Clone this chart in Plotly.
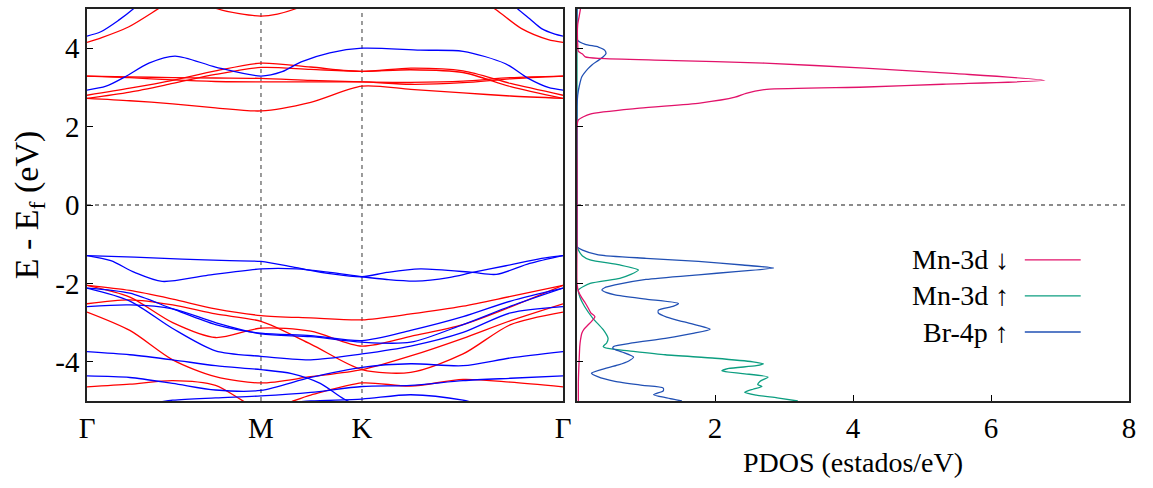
import plotly.graph_objects as go

# ---------------- Band structure data ----------------
# path coordinate (normalised): Gamma - M - K - Gamma
k_ticks = [0.0, 0.3655, 0.5777, 1.0]
k_labels = ["Γ", "M", "K", "Γ"]
kg = [0.0, 0.09, 0.18, 0.27, 0.3655, 0.47, 0.5777, 0.68, 0.79, 0.89, 1.0]

# conduction bands (spin down, red)
cr_k1 = [0.0, 0.031, 0.087, 0.149, 0.20, 0.5, 0.80, 0.857, 0.913, 0.969, 1.0]
cr_e1 = [4.15, 4.27, 4.54, 5.0, 5.4, 6.0, 5.4, 5.0, 4.50, 4.22, 4.15]
cr_k2 = [0.20, 0.275, 0.32, 0.3655, 0.40, 0.437, 0.50]
cr_e2 = [5.4, 5.0, 4.88, 4.82, 4.87, 5.0, 5.35]
cr_a = [2.80, 2.98, 3.18, 3.42, 3.62, 3.52, 3.41, 3.49, 3.42, 3.10, 2.80]
cr_b = [2.72, 2.88, 3.10, 3.33, 3.51, 3.46, 3.41, 3.45, 3.38, 3.02, 2.72]
cr_c = [3.29, 3.27, 3.25, 3.24, 3.23, 3.18, 3.14, 3.13, 3.16, 3.25, 3.29]
cr_d = [3.29, 3.25, 3.19, 3.15, 3.14, 3.14, 3.14, 3.08, 3.12, 3.22, 3.29]
cr_e = [2.72, 2.66, 2.58, 2.48, 2.40, 2.62, 3.03, 2.95, 2.86, 2.78, 2.72]

# conduction bands (spin up, blue)
cb_k1 = [0.0, 0.029, 0.066, 0.097, 0.14, 0.5, 0.86, 0.905, 0.93, 0.955, 0.983, 1.0]
cb_e1 = [4.31, 4.42, 4.71, 5.0, 5.5, 6.5, 5.5, 5.0, 4.75, 4.50, 4.36, 4.31]
cb_k2 = [0.0, 0.04, 0.08, 0.13, 0.185, 0.27, 0.3655, 0.41, 0.45, 0.51, 0.5777, 0.70, 0.79, 0.878, 0.927, 0.969, 1.0]
cb_e2 = [2.93, 3.03, 3.27, 3.62, 3.80, 3.52, 3.29, 3.40, 3.65, 3.88, 4.0, 3.95, 3.92, 3.61, 3.23, 3.00, 2.93]

# valence bands (spin down, red)
vr_1 = [-2.05, -2.18, -2.40, -2.65, -2.82, -2.88, -2.93, -2.78, -2.58, -2.33, -2.05]
vr_2 = [-2.05, -2.35, -3.00, -3.38, -3.14, -3.22, -3.60, -3.35, -3.05, -2.60, -2.05]
vr_3 = [-2.52, -2.42, -2.55, -2.78, -2.97, -3.55, -4.20, -4.27, -3.80, -3.05, -2.73]
vr_4 = [-2.73, -3.20, -3.95, -4.38, -4.54, -4.38, -4.20, -3.85, -3.40, -2.95, -2.52]
vr_5 = [-4.64, -4.57, -4.48, -4.60, -5.20, -4.85, -4.54, -4.62, -4.45, -4.52, -4.64]

# valence bands (spin up, blue)
vb_k1 = [0.0, 0.1, 0.2, 0.3, 0.3655, 0.44, 0.51, 0.5777, 0.63, 0.70, 0.81, 0.86, 0.93, 1.0]
vb_e1 = [-1.29, -1.33, -1.38, -1.42, -1.44, -1.60, -1.75, -1.83, -1.72, -1.63, -1.72, -1.77, -1.49, -1.29]
vb_k2 = [0.0, 0.05, 0.10, 0.158, 0.25, 0.3655, 0.44, 0.51, 0.5777, 0.63, 0.69, 0.76, 0.81, 0.88, 0.955, 1.0]
vb_e2 = [-1.29, -1.42, -1.72, -1.95, -1.80, -1.63, -1.63, -1.72, -1.83, -1.90, -1.94, -1.85, -1.72, -1.55, -1.36, -1.29]
vb_3 = [-2.12, -2.25, -2.65, -3.05, -3.27, -3.33, -3.46, -3.20, -2.85, -2.45, -2.12]
vb_4 = [-2.12, -2.45, -3.15, -3.72, -3.86, -3.95, -3.80, -3.60, -3.25, -2.75, -2.59]
vb_5 = [-2.59, -2.55, -2.65, -3.00, -3.29, -3.36, -3.50, -3.50, -3.05, -2.58, -2.12]
vb_k6 = [0.0, 0.09, 0.18, 0.27, 0.3655, 0.43, 0.49, 0.54, 0.60, 0.75, 1.0]
vb_6 = [-3.74, -3.82, -3.95, -4.10, -4.20, -4.30, -4.55, -4.95, -5.25, -5.40, -5.50]
vb_7 = [-4.36, -4.40, -4.55, -4.72, -4.73, -4.40, -4.14, -4.05, -4.10, -3.90, -3.74]
vb_8 = [-5.30, -5.15, -4.98, -4.92, -4.87, -4.78, -4.63, -4.60, -4.48, -4.42, -4.36]
vb_9 = [-5.60, -5.50, -5.35, -5.20, -5.10, -5.00, -4.95, -4.84, -4.98, -5.30, -5.50]

# ---------------- PDOS data ----------------
mn_dn_E = [5.0, 4.8, 4.6, 4.1, 3.92, 3.85, 3.78, 3.74, 3.69, 3.62, 3.49, 3.35, 3.18, 3.08, 3.01, 2.95,
           2.85, 2.75, 2.60, 2.47, 2.32, 2.17, 2.0, 1.0, 0.0, -1.0, -2.0, -2.2, -2.37, -2.5, -2.62,
           -2.75, -2.85, -2.95, -3.06, -3.17, -3.27, -3.45, -3.61, -4.0, -4.5, -5.0]
mn_dn_D = [0.05, 0.03, 0.01, 0.01, 0.02, 0.08, 0.12, 0.33, 1.28, 2.72, 4.17, 5.5, 6.78, 5.3, 4.2, 2.75,
           2.45, 2.29, 1.78, 0.91, 0.19, 0.02, 0.0, 0.0, 0.0, 0.0, 0.0, 0.02, 0.07, 0.12, 0.16,
           0.20, 0.26, 0.22, 0.16, 0.10, 0.07, 0.05, 0.04, 0.03, 0.02, 0.02]
mn_up_E = [5.0, 2.0, 0.0, -1.0, -1.15, -1.3, -1.40, -1.53, -1.66, -1.77, -1.87, -2.0, -2.17, -2.34,
           -2.59, -2.89, -3.18, -3.40, -3.52, -3.61, -3.66, -3.72, -3.82, -3.91, -4.00, -4.05, -4.10,
           -4.17, -4.23, -4.30, -4.39, -4.50, -4.58, -4.63, -4.70, -4.78, -4.85, -4.92, -5.0]
mn_up_D = [0.0, 0.0, 0.0, 0.0, 0.02, 0.08, 0.19, 0.62, 0.89, 0.78, 0.62, 0.19, 0.02, 0.04,
           0.11, 0.23, 0.38, 0.45, 0.43, 0.38, 0.45, 0.75, 1.28, 2.0, 2.55, 2.70, 2.6,
           2.2, 2.10, 2.4, 2.77, 2.65, 2.62, 2.68, 2.55, 2.43, 2.6, 2.9, 3.2]
br_E = [5.0, 4.3, 4.2, 4.1, 4.03, 3.95, 3.86, 3.78, 3.69, 3.58, 3.48, 3.27, 3.01, 2.8, 2.5, 0.0,
        -1.0, -1.06, -1.15, -1.27, -1.36, -1.44, -1.53, -1.61, -1.70, -1.78, -1.90, -2.04, -2.11,
        -2.17, -2.23, -2.29, -2.40, -2.51, -2.58, -2.68, -2.76, -2.86, -2.97, -3.07, -3.17, -3.27,
        -3.40, -3.52, -3.61, -3.66, -3.75, -3.88, -3.98, -4.08, -4.20, -4.29, -4.38, -4.50, -4.60,
        -4.67, -4.74, -4.84, -4.92, -5.0]
br_D = [0.0, 0.0, 0.01, 0.12, 0.31, 0.40, 0.42, 0.38, 0.31, 0.22, 0.16, 0.07, 0.03, 0.01, 0.0, 0.0,
        0.0, 0.0, 0.08, 0.31, 1.0, 1.76, 2.4, 2.85, 2.3, 1.76, 1.0, 0.55, 0.40,
        0.36, 0.42, 0.55, 1.0, 1.47, 1.40, 1.18, 1.18, 1.30, 1.52, 1.75, 1.93, 1.70,
        1.28, 0.80, 0.53, 0.52, 0.65, 0.82, 0.75, 0.60, 0.35, 0.21, 0.30, 0.55, 0.95,
        1.25, 1.25, 1.11, 1.3, 1.52]

x_ticks_dos = [2, 4, 6, 8]
y_ticks = [-4, -2, 0, 2, 4]

# legend entries
leg_names = ["Mn-3d ↓", "Mn-3d ↑", "Br-4p ↑"]
leg_E = [-1.40, -2.32, -3.24]

RED = "#ff0000"
BLUE = "#0000ff"
C_DN = "#e2126a"
C_UP = "#0c9e80"
C_BR = "#2150b4"
FONT = "Liberation Serif"

fig = go.Figure()

def band(k, e, color):
    fig.add_trace(go.Scatter(x=k, y=e, mode="lines", line=dict(color=color, width=1.3, shape="spline", smoothing=0.8),
                             xaxis="x", yaxis="y", showlegend=False, hoverinfo="skip"))

for e in [cr_a, cr_b, cr_c, cr_d, cr_e, vr_1, vr_2, vr_3, vr_4, vr_5]:
    band(kg, e, RED)
band(cr_k1, cr_e1, RED)
band(cr_k2, cr_e2, RED)
band(cb_k1, cb_e1, BLUE)
band(cb_k2, cb_e2, BLUE)
band(vb_k1, vb_e1, BLUE)
band(vb_k2, vb_e2, BLUE)
band(vb_k6, vb_6, BLUE)
for e in [vb_3, vb_4, vb_5, vb_7, vb_8, vb_9]:
    band(kg, e, BLUE)

def dos(d, e, color):
    fig.add_trace(go.Scatter(x=d, y=e, mode="lines", line=dict(color=color, width=1.3, shape="spline", smoothing=0.6),
                             xaxis="x2", yaxis="y2", showlegend=False, hoverinfo="skip"))

dos(mn_up_D, mn_up_E, C_UP)
dos(br_D, br_E, C_BR)
dos(mn_dn_D, mn_dn_E, C_DN)

# dashed guide lines
GUIDE = dict(color="#666666", width=1.3, dash="4px,4px")
shapes = []
for kv in k_ticks[1:3]:
    shapes.append(dict(type="line", xref="x", yref="y", x0=kv, x1=kv, y0=-5, y1=5, line=GUIDE, layer="below"))
shapes.append(dict(type="line", xref="x", yref="y", x0=0, x1=1, y0=0, y1=0, line=GUIDE, layer="below"))
shapes.append(dict(type="line", xref="x2", yref="y2", x0=0, x1=8, y0=0, y1=0, line=GUIDE, layer="below"))

# legend (text left, line sample right)
leg_colors = [C_DN, C_UP, C_BR]
annotations = []
for name, col, yv in zip(leg_names, leg_colors, leg_E):
    annotations.append(dict(x=6.29, y=yv, xref="x2", yref="y2", text=name, showarrow=False,
                            xanchor="right", yanchor="middle", font=dict(family=FONT, size=28, color="black")))
    shapes.append(dict(type="line", xref="x2", yref="y2", x0=6.49, x1=7.30, y0=yv, y1=yv,
                       line=dict(color=col, width=1.3)))

W, H = 1153, 488
ax_common = dict(showline=True, linecolor="#222222", linewidth=1.6, mirror=True, showgrid=False, zeroline=False,
                 tickfont=dict(family=FONT, size=29, color="black"), automargin=False)

fig.update_layout(
    width=W, height=H, margin=dict(l=0, r=0, t=0, b=0),
    paper_bgcolor="white", plot_bgcolor="white",
    font=dict(family=FONT, color="black"),
    xaxis=dict(domain=[87 / W, 563 / W], range=[0, 1], tickvals=k_ticks, ticktext=k_labels, ticks="",
               anchor="y", **ax_common),
    yaxis=dict(domain=[1 - 401 / H, 1 - 9 / H], range=[-5, 5], tickvals=y_ticks,
               ticktext=[str(v) for v in y_ticks], ticks="inside", ticklen=6, tickcolor="black",
               title=dict(text="E - E<sub>f</sub> (eV)", font=dict(family=FONT, size=34, color="black"), standoff=6),
               anchor="x", **ax_common),
    xaxis2=dict(domain=[577 / W, 1129 / W], range=[0, 8], tickvals=x_ticks_dos,
                ticktext=[str(v) for v in x_ticks_dos], ticks="inside", ticklen=6, tickcolor="black",
                title=dict(text="PDOS (estados/eV)", font=dict(family=FONT, size=28, color="black"), standoff=10),
                anchor="y2", **ax_common),
    yaxis2=dict(domain=[1 - 401 / H, 1 - 9 / H], range=[-5, 5], tickvals=y_ticks, showticklabels=False,
                ticks="inside", ticklen=6, tickcolor="black", anchor="x2", **ax_common),
    shapes=shapes, annotations=annotations,
)

fig.write_html("out.html")
